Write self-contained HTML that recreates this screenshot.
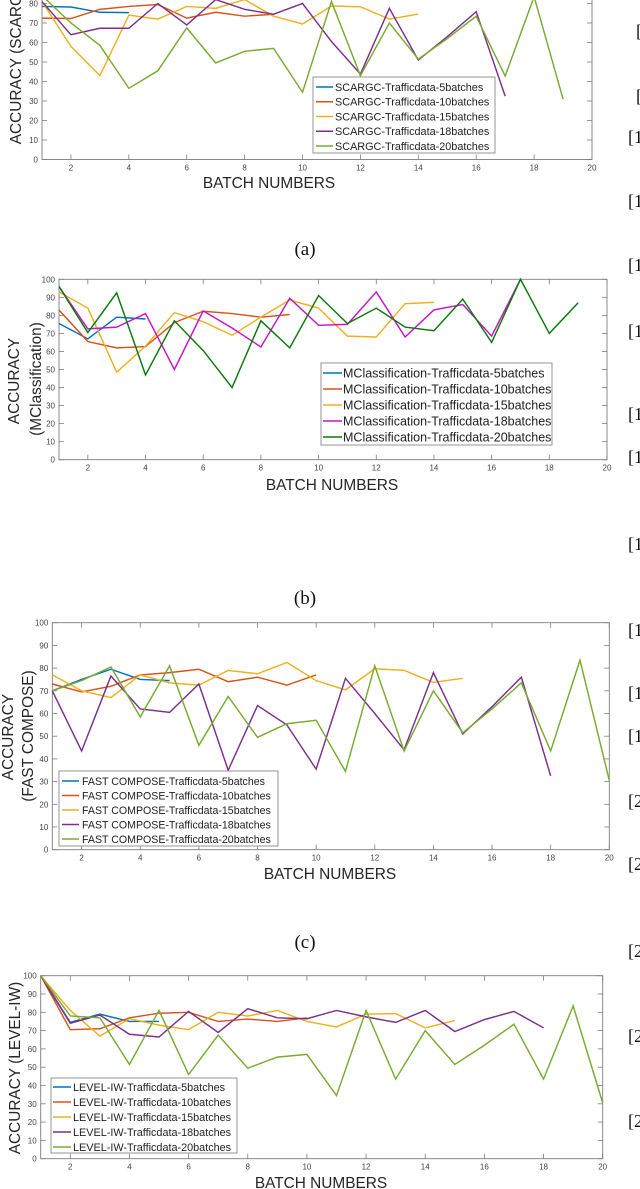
<!DOCTYPE html>
<html lang="en">
<head>
<meta charset="utf-8">
<title>Accuracy vs batch numbers</title>
<style>
html,body{margin:0;padding:0;background:#fff;width:640px;height:1189px;overflow:hidden}
svg{display:block;filter:blur(0.35px)}
text{font-family:"Liberation Sans",sans-serif;fill:#222}
.serif{font-family:"Liberation Serif",serif;fill:#111}
.tick{font-size:8px;fill:#444}
.axis-title{font-size:15.4px;fill:#262626}
</style>
</head>
<body>
<svg id="figure" xmlns="http://www.w3.org/2000/svg" width="640" height="1189" viewBox="0 0 640 1189">
  <rect x="0" y="0" width="640" height="1189" fill="#fff"/>

  <text class="serif" x="305" y="255" font-size="19" text-anchor="middle">(a)</text>
  <text class="serif" x="305" y="604" font-size="19" text-anchor="middle">(b)</text>
  <text class="serif" x="305" y="948" font-size="19" text-anchor="middle">(c)</text>

  <text class="axis-title" x="269" y="188" text-anchor="middle">BATCH NUMBERS</text>
  <text class="axis-title" x="332" y="490" text-anchor="middle">BATCH NUMBERS</text>
  <text class="axis-title" x="330" y="879" text-anchor="middle">BATCH NUMBERS</text>
  <text class="axis-title" x="321" y="1188" text-anchor="middle">BATCH NUMBERS</text>

  <text class="axis-title" transform="translate(21,61) rotate(-90)" text-anchor="middle">ACCURACY (SCARGC)</text>
  <text class="axis-title" transform="translate(19,381) rotate(-90)" text-anchor="middle">ACCURACY</text>
  <text class="axis-title" transform="translate(41,379) rotate(-90)" text-anchor="middle">(MClassification)</text>
  <text class="axis-title" transform="translate(13,737) rotate(-90)" text-anchor="middle">ACCURACY</text>
  <text class="axis-title" transform="translate(33,736) rotate(-90)" text-anchor="middle">(FAST COMPOSE)</text>
  <text class="axis-title" transform="translate(20,1068) rotate(-90)" text-anchor="middle">ACCURACY (LEVEL-IW)</text>

  <g class="refs" font-size="18">
    <text class="serif" x="636" y="37">[</text>
    <text class="serif" x="636" y="102">[</text>
    <text class="serif" x="628" y="143">[1</text>
    <text class="serif" x="628" y="207">[1</text>
    <text class="serif" x="628" y="271">[1</text>
    <text class="serif" x="628" y="337">[1</text>
    <text class="serif" x="628" y="420">[1</text>
    <text class="serif" x="628" y="463">[1</text>
    <text class="serif" x="628" y="550">[1</text>
    <text class="serif" x="628" y="636">[1</text>
    <text class="serif" x="628" y="699">[1</text>
    <text class="serif" x="628" y="742">[1</text>
    <text class="serif" x="628" y="807">[2</text>
    <text class="serif" x="628" y="870">[2</text>
    <text class="serif" x="628" y="957">[2</text>
    <text class="serif" x="628" y="1042">[2</text>
    <text class="serif" x="628" y="1127">[2</text>
  </g>
</svg>
<script>
// Shared axis tick labels
const xTicks = [2, 4, 6, 8, 10, 12, 14, 16, 18, 20];
const yTicks = [0, 10, 20, 30, 40, 50, 60, 70, 80, 90, 100];
const seriesBatches = ['5batches', '10batches', '15batches', '18batches', '20batches'];

// Panel (a) SCARGC
const scargc5 = [78.5, 78.2, 75.5, 75.3];
const scargc10 = [72.5, 72.3, 77, 78.5, 79.5, 72.5, 75.5, 73.5, 74.5];
const scargc15 = [81, 58, 43, 74, 72, 78.5, 77.5, 82, 73.5, 69.5, 78.7, 78.3, 72, 74.6];
const scargc18 = [81, 64, 67.3, 67.3, 80, 69, 82, 77, 74.5, 80, 60.5, 43.8, 77.5, 51, 63, 75.8, 32.5];
const scargc20 = [84, 70, 58.5, 36.5, 45.5, 67.5, 49.5, 55.5, 57, 34.5, 81, 43, 70, 51.5, 62, 73.5, 42.8, 83.5, 31];

// Panel (b) MClassification
const mclass5 = [75.5, 67, 79, 78];
const mclass10 = [83, 65.5, 62, 62.7, 76, 82.3, 81, 79, 80.5];
const mclass15 = [93, 84, 48.5, 63, 81.5, 76.5, 69, 79, 88.5, 84, 68.5, 68, 86.5, 87.2];
const mclass18 = [96, 72.5, 73.5, 81, 50, 82.5, 73, 62.5, 89.5, 74.5, 75, 93, 68, 83, 86, 68.5, 100];
const mclass20 = [96, 70.5, 92.5, 47, 77, 60.5, 40, 77, 62, 91, 75.5, 84, 73.5, 71.5, 89, 65, 100, 70, 87];

// Panel (c) FAST COMPOSE
const fast5 = [70, 75, 79.5, 75, 74.5];
const fast10 = [73, 69.5, 72, 77, 78, 79.5, 74, 76, 72.5, 77];
const fast15 = [77, 70, 67, 77, 73.5, 72.5, 79, 77.5, 82.5, 74.5, 70.4, 79.7, 79, 73.7, 75.5];
const fast18 = [70, 43.5, 76.5, 62, 60.5, 73, 35, 63.5, 55, 35.5, 75.5, 60, 44, 78, 51, 63, 76, 32.5];
const fast20 = [70, 74.5, 80.5, 58.5, 81, 46, 67.5, 49.5, 55.5, 57, 34.5, 81, 43.5, 70, 51.5, 62, 73.5, 43.5, 83.5, 30.5];

// Panel (d) LEVEL-IW
const level5 = [100, 74.5, 79, 75, 75];
const level10 = [100, 70.5, 71, 77, 79.5, 80, 75, 76.3, 75, 77];
const level15 = [100, 81, 67, 76.5, 73, 70.5, 80, 78, 81, 75, 72, 79, 79.3, 71.5, 75.5];
const level18 = [100, 74, 78.5, 68, 66.5, 80.5, 69, 82, 77, 76.5, 81, 77.5, 74.5, 81, 69.5, 76, 80.5, 71.5];
const level20 = [100, 78, 77, 51.5, 81, 46, 67.5, 49.5, 55.5, 57, 34.5, 81, 43.5, 70, 51.5, 62, 73.5, 43.5, 83.5, 30.5];

const figure = document.getElementById('figure');
const NS = 'http://www.w3.org/2000/svg';

function make(tag, parent) {
  const el = document.createElementNS(NS, tag);
  parent.appendChild(el);
  return el;
}

function drawLine(parent, x1, y1, x2, y2, color, width) {
  const el = make('line', parent);
  el.setAttribute('x1', x1);
  el.setAttribute('y1', y1);
  el.setAttribute('x2', x2);
  el.setAttribute('y2', y2);
  el.setAttribute('stroke', color);
  el.setAttribute('stroke-width', width);
  return el;
}

function drawPanel(panel) {
  const g = make('g', figure);
  
  

  // axis functions
  const xScale = v => panel.left + (v - 1) * (panel.right - panel.left) / 19;
  const yScale = v => panel.bottom - v * (panel.bottom - panel.top) / 100;

  // plot box
  const box = make('rect', g);
  
  
  box.setAttribute('x', panel.left);
  box.setAttribute('y', panel.top);
  box.setAttribute('width', panel.right - panel.left);
  box.setAttribute('height', panel.bottom - panel.top);
  box.setAttribute('fill', 'none');
  box.setAttribute('stroke', '#7d7d7d');
  box.setAttribute('stroke-width', '0.9');

  // x ticks
  xTicks.forEach(t => {
    const x = xScale(t);
    const bottomTick = drawLine(g, x, panel.bottom, x, panel.bottom - 5, '#7d7d7d', 0.8);
    
    
    const topTick = drawLine(g, x, panel.top, x, panel.top + 5, '#7d7d7d', 0.8);
    
    
    const label = make('text', g);
    
    
    label.setAttribute('class', 'tick');
    label.setAttribute('x', x);
    label.setAttribute('y', panel.bottom + 11);
    label.setAttribute('text-anchor', 'middle');
    label.textContent = t;
  });

  // y ticks
  yTicks.forEach(t => {
    const y = yScale(t);
    const leftTick = drawLine(g, panel.left, y, panel.left + 5, y, '#7d7d7d', 0.8);
    
    
    const rightTick = drawLine(g, panel.right, y, panel.right - 5, y, '#7d7d7d', 0.8);
    
    
    const label = make('text', g);
    
    
    label.setAttribute('class', 'tick');
    label.setAttribute('x', panel.left - 4);
    label.setAttribute('y', y + 3);
    label.setAttribute('text-anchor', 'end');
    label.textContent = t;
  });

  // series
  panel.series.forEach((values, i) => {
    const line = make('polyline', g);
    
    
    line.setAttribute('fill', 'none');
    line.setAttribute('stroke', panel.colors[i]);
    line.setAttribute('stroke-width', '1.45');
    line.setAttribute('stroke-linejoin', 'miter');
    line.setAttribute('points', values.map((v, k) => xScale(k + 1).toFixed(2) + ',' + yScale(v).toFixed(2)).join(' '));
  });

  // legend
  const lg = panel.legend;
  const legend = make('g', g);
  
  
  const frame = make('rect', legend);
  
  
  frame.setAttribute('x', lg.x);
  frame.setAttribute('y', lg.y);
  frame.setAttribute('width', lg.w);
  frame.setAttribute('height', lg.h);
  frame.setAttribute('fill', '#fff');
  frame.setAttribute('stroke', '#8a8a8a');
  frame.setAttribute('stroke-width', '0.9');
  seriesBatches.forEach((suffix, i) => {
    const rowY = lg.firstRow + i * lg.rowGap;
    const swatch = drawLine(legend, lg.lineX1, rowY, lg.lineX2, rowY, panel.colors[i], 1.5);
    
    
    const text = make('text', legend);
    
    
    text.setAttribute('x', lg.textX);
    text.setAttribute('y', rowY + lg.size * 0.36);
    text.setAttribute('font-size', lg.size);
    text.textContent = panel.name + '-Trafficdata-' + suffix;
  });
}

const matlabColors = ['#0072bd', '#d95319', '#edb120', '#7e2f8e', '#77ac30'];
const vividColors = ['#0072bd', '#d95319', '#edb120', '#c814c8', '#0a7a0a'];

drawPanel({
  id: 'a', name: 'SCARGC', left: 42, right: 592, top: -35.5, bottom: 159.5, colors: matlabColors,
  series: [scargc5, scargc10, scargc15, scargc18, scargc20],
  legend: { x: 313, y: 77, w: 182, h: 76, lineX1: 316, lineX2: 333, textX: 335, firstRow: 87, rowGap: 14.75, size: 10.85 }
});
drawPanel({
  id: 'b', name: 'MClassification', left: 59, right: 607, top: 279.3, bottom: 459.7, colors: vividColors,
  series: [mclass5, mclass10, mclass15, mclass18, mclass20],
  legend: { x: 321, y: 363, w: 231, h: 82, lineX1: 323, lineX2: 342, textX: 343, firstRow: 373, rowGap: 16, size: 12.5 }
});
drawPanel({
  id: 'c', name: 'FAST COMPOSE', left: 52.3, right: 609.3, top: 622.7, bottom: 849.7, colors: matlabColors,
  series: [fast5, fast10, fast15, fast18, fast20],
  legend: { x: 59, y: 771, w: 219, h: 75, lineX1: 62, lineX2: 79, textX: 82, firstRow: 781, rowGap: 14.5, size: 10.6 }
});
drawPanel({
  id: 'd', name: 'LEVEL-IW', left: 40.7, right: 602.7, top: 975.7, bottom: 1158.7, colors: matlabColors,
  series: [level5, level10, level15, level18, level20],
  legend: { x: 51, y: 1078, w: 186, h: 75, lineX1: 53, lineX2: 71, textX: 73, firstRow: 1087, rowGap: 15, size: 10.84 }
});
</script>
</body>
</html>
